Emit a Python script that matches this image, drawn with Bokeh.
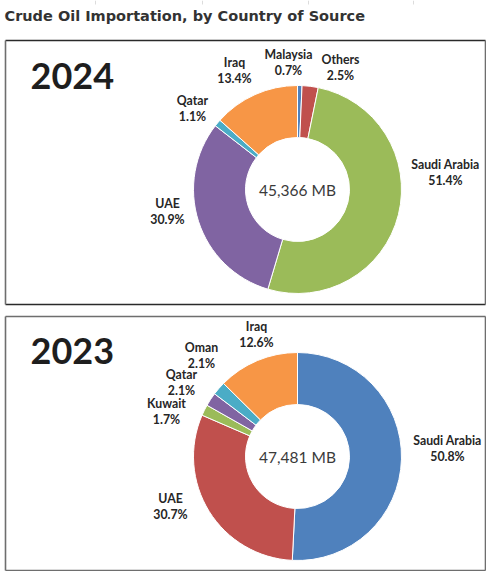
import math
from bokeh.plotting import figure
from bokeh.models import Range1d, ColumnDataSource
from bokeh.core.properties import value
from bokeh.embed import file_html
from bokeh.resources import INLINE

# ---------------- data ----------------
title_text = "Crude Oil Importation, by Country of Source"

year_2024 = "2024"
countries_2024 = ["Malaysia", "Others", "Saudi Arabia", "UAE", "Qatar", "Iraq"]
shares_2024 = [0.7, 2.5, 51.4, 30.9, 1.1, 13.4]
total_2024 = 45366

year_2023 = "2023"
countries_2023 = ["Saudi Arabia", "UAE", "Kuwait", "Qatar", "Oman", "Iraq"]
shares_2023 = [50.8, 30.7, 1.7, 2.1, 2.1, 12.6]
total_2023 = 47481

# ---------------- styles / layout ----------------
BLUE, RED, GREEN, PURPLE, CYAN, ORANGE = "#4F81BD", "#C0504D", "#9BBB59", "#8064A2", "#4BACC6", "#F79646"
colors_2024 = [BLUE, RED, GREEN, PURPLE, CYAN, ORANGE]
colors_2023 = [BLUE, RED, GREEN, PURPLE, CYAN, ORANGE]

W, H = 486, 571
LABEL_FONT = "Lato"

# layout positions in screen pixels measured from the top-left corner
def px(X):
    return X

def py(Y):
    return H - Y

panels = [
    dict(
        year=year_2024, names=countries_2024, shares=shares_2024, total=total_2024,
        colors=colors_2024, box=(5, 485, 40, 304), center=(297, 189), year_pos=(30, 75),
        hv_color="#2a2a2a", side_color="#6e6e6e",
        label_pos=[(288, 62), (340, 67), (445, 172), (167, 211), (192, 108), (234, 70)],
    ),
    dict(
        year=year_2023, names=countries_2023, shares=shares_2023, total=total_2023,
        colors=colors_2023, box=(5, 485, 316, 570), center=(297, 456), year_pos=(30, 350),
        hv_color="#6e6e6e", side_color="#6e6e6e",
        label_pos=[(447, 448), (170, 506), (166, 411), (181, 382), (201, 355), (256, 334)],
    ),
]

R_OUT, R_IN = 104, 52

p = figure(width=W, height=H, x_range=Range1d(0, W), y_range=Range1d(0, H),
           output_backend="svg", toolbar_location=None, min_border=0,
           x_axis_location=None, y_axis_location=None)
p.outline_line_color = None
p.xgrid.visible = False
p.ygrid.visible = False
p.background_fill_color = "white"
p.border_fill_color = "white"

# faint remnants of a table border at the very top
tick_x = [95, 202, 308, 413]
p.segment(x0=[px(x) for x in tick_x], y0=[py(0)] * 4, x1=[px(x) for x in tick_x], y1=[py(4)] * 4,
          line_color="#dcdcdc", line_width=1)

# title
p.text(x=[px(4)], y=[py(15)], text=[title_text], text_font=value("DejaVu Sans"), text_font_style="bold",
       text_font_size="14.5px", text_color="#333333", text_align="left", text_baseline="middle")

for pan in panels:
    l, r, t, b = pan["box"]
    L, R, T, B = px(l), px(r), py(t), py(b)
    p.segment(x0=[L, L], y0=[T, B], x1=[R, R], y1=[T, B], line_color=pan["hv_color"], line_width=1.6)
    p.segment(x0=[L, R], y0=[T, T], x1=[L, R], y1=[B, B], line_color=pan["side_color"], line_width=1.6)

    cx, cy = px(pan["center"][0]), py(pan["center"][1])
    total_share = sum(pan["shares"])
    starts, ends = [], []
    cum = 0.0
    for s in pan["shares"]:
        a0 = math.pi / 2 - 2 * math.pi * (cum + s) / total_share
        a1 = math.pi / 2 - 2 * math.pi * cum / total_share
        starts.append(a0)
        ends.append(a1)
        cum += s
    src = ColumnDataSource(dict(x=[cx] * len(starts), y=[cy] * len(starts),
                                start=starts, end=ends, color=pan["colors"]))
    p.annular_wedge(x="x", y="y", inner_radius=R_IN, outer_radius=R_OUT,
                    start_angle="start", end_angle="end", direction="anticlock",
                    fill_color="color", line_color="white", line_width=1, source=src)

    # center total
    p.text(x=[cx], y=[cy], text=[f"{pan['total']:,} MB"], text_font=value(LABEL_FONT),
           text_font_size="15.5px", text_color="#3a3a3a", text_align="center", text_baseline="middle")

    # labels
    lx = [px(a) for a, _ in pan["label_pos"]]
    ly = [py(b_) for _, b_ in pan["label_pos"]]
    txt = [f"{n}\n{s:.1f}%" for n, s in zip(pan["names"], pan["shares"])]
    p.text(x=lx, y=ly, text=txt, text_font=value(LABEL_FONT), text_font_style="bold",
           text_font_size="12.3px", text_color="#262626", text_align="center",
           text_baseline="middle", text_line_height=1.05)

    # year
    yx, yy = pan["year_pos"]
    p.text(x=[px(yx)], y=[py(yy)], text=[pan["year"]], text_font=value(LABEL_FONT),
           text_font_style="bold", text_font_size="36px", text_color="#1e1e1e",
           text_align="left", text_baseline="middle")

open("out.html", "w").write(file_html(p, INLINE))
